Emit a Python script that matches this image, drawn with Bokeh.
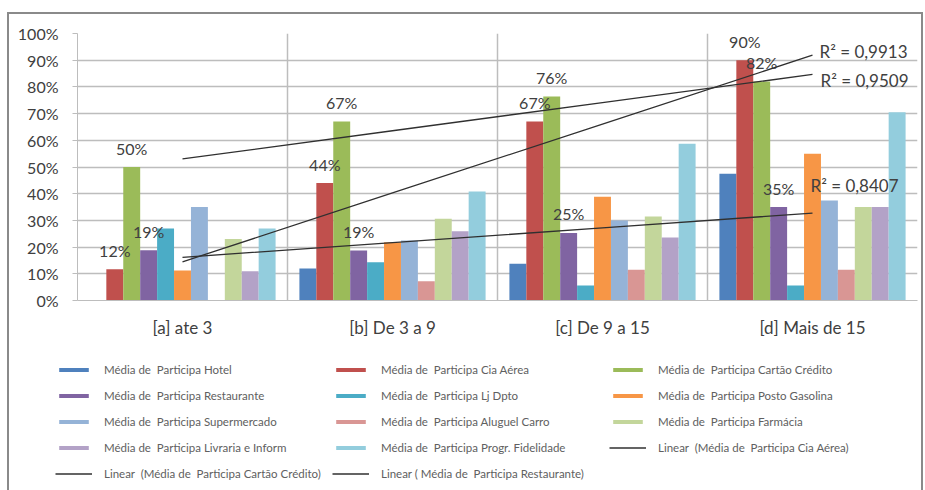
import numpy as np
from bokeh.plotting import figure
from bokeh.layouts import column
from bokeh.models import (FactorRange, Range1d, ColumnDataSource, Legend, LegendItem,
                          FixedTicker, SingleIntervalTicker, NumeralTickFormatter)
from bokeh.transform import dodge
from bokeh.core.properties import value
from bokeh.embed import file_html
from bokeh.resources import INLINE

categories = ["[a] ate 3", "[b] De 3 a 9", "[c] De 9 a 15", "[d] Mais de 15"]

series_names = [
    "Média de  Participa Hotel",
    "Média de  Participa Cia Aérea",
    "Média de  Participa Cartão Crédito",
    "Média de  Participa Restaurante",
    "Média de  Participa Lj Dpto",
    "Média de  Participa Posto Gasolina",
    "Média de  Participa Supermercado",
    "Média de  Participa Aluguel Carro",
    "Média de  Participa Farmácia",
    "Média de  Participa Livraria e Inform",
    "Média de  Participa Progr. Fidelidade",
]
series_colors = ["#4F81BD", "#C0504D", "#9BBB59", "#8064A2", "#4BACC6", "#F79646",
                 "#95B3D7", "#D99694", "#C3D69B", "#B3A2C7", "#93CDDD"]

hotel = [0.0, 0.12, 0.138, 0.475]
cia_aerea = [0.117, 0.44, 0.67, 0.90]
cartao_credito = [0.50, 0.67, 0.764, 0.82]
restaurante = [0.188, 0.187, 0.253, 0.35]
lj_dpto = [0.27, 0.143, 0.056, 0.056]
posto_gasolina = [0.112, 0.218, 0.389, 0.55]
supermercado = [0.35, 0.225, 0.30, 0.375]
aluguel_carro = [0.0, 0.072, 0.115, 0.115]
farmacia = [0.23, 0.306, 0.315, 0.35]
livraria_inform = [0.11, 0.259, 0.236, 0.35]
progr_fidelidade = [0.27, 0.408, 0.587, 0.705]

series_values = [hotel, cia_aerea, cartao_credito, restaurante, lj_dpto, posto_gasolina,
                 supermercado, aluguel_carro, farmacia, livraria_inform, progr_fidelidade]

trend_names = ["Linear  (Média de  Participa Cia Aérea)",
               "Linear  (Média de  Participa Cartão Crédito)",
               "Linear ( Média de  Participa Restaurante)"]
trend_series = [cia_aerea, cartao_credito, restaurante]
r2_labels = ["R² = 0,9913", "R² = 0,9509", "R² = 0,8407"]

FONT = "Lato"
TXT = "#404040"
TREND_COLOR = "#303030"
BORDER = "2px solid #8a8a8a"

# ---------------- main chart ----------------
p = figure(width=912, height=330, x_range=FactorRange(*categories, range_padding=0),
           y_range=Range1d(0, 1), output_backend="svg", toolbar_location=None,
           min_border_left=68, min_border_right=4, min_border_top=19, min_border_bottom=44)
p.x_range.range_padding = 0
p.outline_line_color = None

src_dict = {"cat": categories}
for i, vals in enumerate(series_values):
    src_dict[f"s{i}"] = vals
src = ColumnDataSource(src_dict)

n = len(series_values)
bw = 0.0806
for i in range(n):
    off = (i - (n - 1) / 2) * bw
    p.vbar(x=dodge("cat", off, range=p.x_range), top=f"s{i}", width=bw, source=src,
           fill_color=series_colors[i], line_color=None)

# data labels for the three trend series
for i in [1, 2, 3]:
    off = (i - (n - 1) / 2) * bw
    vals = series_values[i]
    lsrc = ColumnDataSource({"cat": categories, "v": vals,
                             "t": [f"{int(round(v * 100))}%" for v in vals]})
    p.text(x=dodge("cat", off, range=p.x_range), y="v", text="t", source=lsrc,
           text_align="center", text_baseline="middle", y_offset=-19,
           text_font=value(FONT), text_font_size="16px", text_color=TXT)

# trendlines
xs = np.arange(1, len(categories) + 1)
r2_offsets = [(7, -4), (8, 6), (-2, -28)]
for k, s in enumerate(trend_series):
    m, b = np.polyfit(xs, s, 1)
    fit = list(m * xs + b)
    p.line(x=categories, y=fit, line_color=TREND_COLOR, line_width=1.3)
    p.text(x=[categories[-1]], y=[fit[-1]], text=[r2_labels[k]],
           x_offset=r2_offsets[k][0], y_offset=r2_offsets[k][1],
           text_align="left", text_baseline="middle",
           text_font=value(FONT), text_font_size="17px", text_color=TXT)

p.ygrid.ticker = SingleIntervalTicker(interval=0.1)
p.ygrid.grid_line_color = "#BDBDBD"
p.ygrid.grid_line_width = 1.5
p.xgrid.ticker = FixedTicker(ticks=[0, 1, 2, 3, 4])
p.xgrid.grid_line_color = "#BDBDBD"
p.xgrid.grid_line_width = 1.5

p.yaxis.ticker = SingleIntervalTicker(interval=0.1)
p.yaxis.formatter = NumeralTickFormatter(format="0%")
p.yaxis.axis_line_color = "#BDBDBD"
p.yaxis.major_tick_line_color = "#BDBDBD"
p.yaxis.major_tick_out = 5
p.yaxis.major_tick_in = 0
p.yaxis.minor_tick_line_color = None
p.yaxis.major_label_text_font = FONT
p.yaxis.major_label_text_font_size = "16px"
p.yaxis.major_label_text_color = TXT
p.yaxis.major_label_standoff = 14

p.xaxis.axis_line_color = "#BDBDBD"
p.xaxis.major_tick_line_color = None
p.xaxis.major_label_text_font = FONT
p.xaxis.major_label_text_font_size = "17px"
p.xaxis.major_label_text_color = TXT
p.xaxis.major_label_standoff = 10

# ---------------- legend panel ----------------
lg = figure(width=912, height=146, x_range=Range1d(0, 1), y_range=Range1d(0, 1),
            output_backend="svg", toolbar_location=None, min_border=0,
            x_axis_location=None, y_axis_location=None)
lg.outline_line_color = None
lg.xgrid.visible = False
lg.ygrid.visible = False
try:
    lg.frame_align = False
    legend_x = 46
except AttributeError:
    legend_x = 0

# legend proxies: a single point kept outside the visible range
items = []
for i in range(n):
    r = lg.vbar(x=[-5], top=[-5], width=0.1, fill_color=series_colors[i], line_color=None)
    items.append(LegendItem(label=series_names[i], renderers=[r]))
for k in range(3):
    r = lg.line(x=[-5, -4], y=[-5, -5], line_color=TREND_COLOR, line_width=1.3)
    items.append(LegendItem(label=trend_names[k], renderers=[r]))

legend = Legend(items=items, orientation="horizontal", ncols=3, location=(legend_x, 7),
                glyph_width=37, glyph_height=5, label_height=20, label_standoff=12,
                spacing=6, label_width=222, padding=0, margin=0,
                label_text_font=FONT, label_text_font_size="11.5px", label_text_color="#606060",
                border_line_color=None, background_fill_alpha=0)
lg.add_layout(legend, "center")

layout = column(p, lg, spacing=0)
layout.styles = {"margin-left": "7px", "margin-top": "12px",
                 "border-left": BORDER, "border-top": BORDER, "border-right": BORDER}

open("out.html", "w").write(file_html(layout, INLINE))
